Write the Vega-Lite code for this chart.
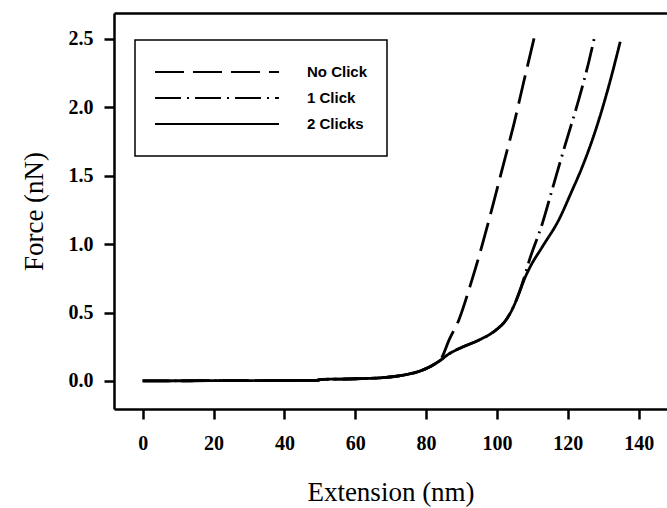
{
  "$schema": "https://vega.github.io/schema/vega-lite/v6.json",
  "width": 553,
  "height": 396,
  "autosize": {"type": "none"},
  "padding": {"left": 114, "top": 13, "right": 0, "bottom": 99},
  "background": "white",
  "config": {
    "view": {"stroke": null},
    "axis": {
      "domainColor": "black", "domainWidth": 2.5, "tickColor": "black", "tickWidth": 2.5, "tickSize": 10,
      "grid": false, "labelFont": "Liberation Serif", "labelFontSize": 20, "labelFontWeight": "bold", "labelColor": "black",
      "titleFont": "Liberation Serif", "titleFontSize": 27, "titleFontWeight": "normal", "titleColor": "black"
    }
  },
  "data": {"values": [
    {"series": "2 Clicks", "ext": 0, "force": 0},
    {"series": "2 Clicks", "ext": 5, "force": 0.001},
    {"series": "2 Clicks", "ext": 20, "force": 0.002},
    {"series": "2 Clicks", "ext": 35, "force": 0.003},
    {"series": "2 Clicks", "ext": 49, "force": 0.004},
    {"series": "2 Clicks", "ext": 50.5, "force": 0.011},
    {"series": "2 Clicks", "ext": 60, "force": 0.016},
    {"series": "2 Clicks", "ext": 68, "force": 0.025},
    {"series": "2 Clicks", "ext": 74, "force": 0.045},
    {"series": "2 Clicks", "ext": 78, "force": 0.07},
    {"series": "2 Clicks", "ext": 81.5, "force": 0.11},
    {"series": "2 Clicks", "ext": 84, "force": 0.15},
    {"series": "2 Clicks", "ext": 86, "force": 0.19},
    {"series": "2 Clicks", "ext": 88, "force": 0.22},
    {"series": "2 Clicks", "ext": 90, "force": 0.245},
    {"series": "2 Clicks", "ext": 95, "force": 0.3},
    {"series": "2 Clicks", "ext": 99.6, "force": 0.37},
    {"series": "2 Clicks", "ext": 102.4, "force": 0.44},
    {"series": "2 Clicks", "ext": 104.8, "force": 0.55},
    {"series": "2 Clicks", "ext": 106.2, "force": 0.64},
    {"series": "2 Clicks", "ext": 108, "force": 0.76},
    {"series": "2 Clicks", "ext": 109.5, "force": 0.84},
    {"series": "2 Clicks", "ext": 112.8, "force": 0.98},
    {"series": "2 Clicks", "ext": 117.5, "force": 1.18},
    {"series": "2 Clicks", "ext": 121, "force": 1.38},
    {"series": "2 Clicks", "ext": 124, "force": 1.56},
    {"series": "2 Clicks", "ext": 127.8, "force": 1.83},
    {"series": "2 Clicks", "ext": 131.5, "force": 2.15},
    {"series": "2 Clicks", "ext": 134.8, "force": 2.48},

    {"series": "1 Click", "ext": 0, "force": 0},
    {"series": "1 Click", "ext": 20, "force": 0.002},
    {"series": "1 Click", "ext": 49, "force": 0.004},
    {"series": "1 Click", "ext": 50.5, "force": 0.011},
    {"series": "1 Click", "ext": 60, "force": 0.016},
    {"series": "1 Click", "ext": 68, "force": 0.025},
    {"series": "1 Click", "ext": 74, "force": 0.045},
    {"series": "1 Click", "ext": 78, "force": 0.07},
    {"series": "1 Click", "ext": 81.5, "force": 0.11},
    {"series": "1 Click", "ext": 84, "force": 0.15},
    {"series": "1 Click", "ext": 86, "force": 0.19},
    {"series": "1 Click", "ext": 90, "force": 0.245},
    {"series": "1 Click", "ext": 95, "force": 0.3},
    {"series": "1 Click", "ext": 99.6, "force": 0.37},
    {"series": "1 Click", "ext": 102.4, "force": 0.44},
    {"series": "1 Click", "ext": 104.8, "force": 0.55},
    {"series": "1 Click", "ext": 106.2, "force": 0.64},
    {"series": "1 Click", "ext": 108.1, "force": 0.79},
    {"series": "1 Click", "ext": 109, "force": 0.87},
    {"series": "1 Click", "ext": 112.8, "force": 1.15},
    {"series": "1 Click", "ext": 115.6, "force": 1.4},
    {"series": "1 Click", "ext": 119.3, "force": 1.73},
    {"series": "1 Click", "ext": 122.9, "force": 2.04},
    {"series": "1 Click", "ext": 125.9, "force": 2.33},
    {"series": "1 Click", "ext": 127.6, "force": 2.52},

    {"series": "No Click", "ext": 0, "force": 0},
    {"series": "No Click", "ext": 20, "force": 0.002},
    {"series": "No Click", "ext": 49, "force": 0.004},
    {"series": "No Click", "ext": 50.5, "force": 0.011},
    {"series": "No Click", "ext": 60, "force": 0.016},
    {"series": "No Click", "ext": 68, "force": 0.025},
    {"series": "No Click", "ext": 74, "force": 0.045},
    {"series": "No Click", "ext": 78, "force": 0.07},
    {"series": "No Click", "ext": 81.5, "force": 0.11},
    {"series": "No Click", "ext": 84.3, "force": 0.165},
    {"series": "No Click", "ext": 86.5, "force": 0.3},
    {"series": "No Click", "ext": 89.3, "force": 0.45},
    {"series": "No Click", "ext": 92.6, "force": 0.71},
    {"series": "No Click", "ext": 95.9, "force": 1.0},
    {"series": "No Click", "ext": 99.3, "force": 1.33},
    {"series": "No Click", "ext": 102, "force": 1.6},
    {"series": "No Click", "ext": 104.8, "force": 1.88},
    {"series": "No Click", "ext": 107.5, "force": 2.18},
    {"series": "No Click", "ext": 110.8, "force": 2.54}
  ]},
  "resolve": {"axis": {"x": "independent"}},
  "layer": [
    {
      "mark": {"type": "line", "color": "black", "strokeWidth": 2.8, "interpolate": "monotone"},
      "encoding": {
        "x": {"field": "ext", "type": "quantitative",
          "scale": {"domain": [-8.1, 148], "nice": false, "zero": false},
          "axis": {"values": [0, 20, 40, 60, 80, 100, 120, 140], "title": "Extension (nm)", "labelPadding": 14, "titlePadding": 26}},
        "y": {"field": "force", "type": "quantitative",
          "scale": {"domain": [-0.205, 2.69], "nice": false, "zero": false},
          "axis": {"values": [0, 0.5, 1, 1.5, 2, 2.5], "format": ".1f", "title": "Force (nN)", "labelPadding": 11, "titlePadding": 20}},
        "strokeDash": {"field": "series", "type": "nominal",
          "scale": {"domain": ["No Click", "1 Click", "2 Clicks"], "range": [[29, 9], [26, 6, 2, 6], [1, 0]]},
          "legend": {
            "title": null, "orient": "none", "legendX": 21, "legendY": 27,
            "symbolType": "stroke", "symbolSize": 15376, "symbolStrokeWidth": 2, "symbolStrokeColor": "black",
            "clipHeight": 26, "rowPadding": 0, "padding": 19, "labelOffset": 27,
            "labelFont": "Liberation Sans", "labelFontSize": 15, "labelFontWeight": "bold", "labelColor": "black",
            "strokeColor": "black", "fillColor": "white",
            "encode": {"legend": {"update": {"strokeWidth": {"value": 1.5}}}}
          }}
      }
    },
    {
      "mark": {"type": "point", "opacity": 0},
      "encoding": {
        "x": {"field": "ext", "type": "quantitative",
          "axis": {"orient": "top", "labels": false, "ticks": false, "title": null}},
        "y": {"field": "force", "type": "quantitative"}
      }
    }
  ]
}
